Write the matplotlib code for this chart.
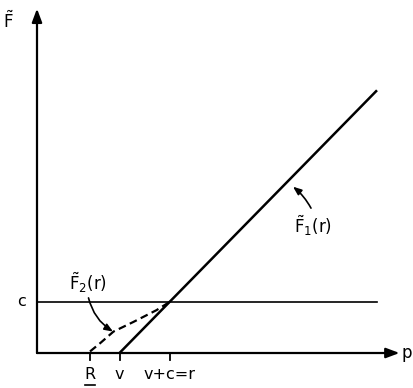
import matplotlib.pyplot as plt

# key positions on the p axis (data units)
R = 1.05
v = 1.65
c = 1.0
r = v + c
x_end = 6.8

# F2(r): dashed curve
f2_x = [1.06, 1.26, 1.53, 1.93, 2.39, 2.65]
f2_y = [0.03, 0.19, 0.42, 0.61, 0.84, 1.0]

tick_pos = [R, v, r]
tick_labels = ["R", "v", "v+c=r"]

plt.rcParams['mathtext.fontset'] = 'dejavusans'

fig = plt.figure(figsize=(4.14, 3.88), dpi=100)
ax = fig.add_axes([0, 0, 1, 1])
ax.set_xlim(-0.74, 7.54)
ax.set_ylim(-0.686, 6.92)
ax.axis('off')

# axes with arrow heads
ax.annotate('', xy=(7.25, 0), xytext=(0, 0),
            arrowprops=dict(arrowstyle='-|>,head_length=0.8,head_width=0.3', color='black', lw=1.6,
                            shrinkA=0, shrinkB=0))
ax.annotate('', xy=(0, 6.75), xytext=(0, 0),
            arrowprops=dict(arrowstyle='-|>,head_length=0.8,head_width=0.3', color='black', lw=1.6,
                            shrinkA=0, shrinkB=0))

# horizontal line at c
ax.plot([0, x_end], [c, c], color='black', lw=1.2)

# F1(r) = r - v
ax.plot([v, x_end], [0, x_end - v], color='black', lw=1.8, solid_capstyle='butt')

# F2(r) dashed
ax.plot(f2_x, f2_y, color='black', lw=1.6, ls=(0, (3.5, 2)))

# ticks and tick labels
for xp, lab in zip(tick_pos, tick_labels):
    ax.plot([xp, xp], [0, -0.13], color='black', lw=1.3)
    ax.text(xp, -0.43, lab, ha='center', va='center', fontsize=11.5)
ax.plot([R - 0.1, R + 0.1], [-0.63, -0.63], color='black', lw=1.2)

ax.text(-0.3, c, "c", ha='center', va='center', fontsize=11.5)
ax.text(7.4, 0, "p", ha='center', va='center', fontsize=12)
ax.text(-0.58, 6.5, r'$\tilde{\mathrm{F}}$', ha='center', va='center', fontsize=12)

# labels for the two curves with curved arrows
ax.text(1.02, 1.38, r'$\tilde{\mathrm{F}}_2\mathrm{(r)}$', ha='center', va='center', fontsize=12)
ax.annotate('', xy=(1.52, 0.42), xytext=(1.03, 1.08),
            arrowprops=dict(arrowstyle='-|>,head_length=0.5,head_width=0.2', color='black', lw=1.2,
                            connectionstyle='arc3,rad=0.2', shrinkA=0, shrinkB=0))

ax.text(5.52, 2.5, r'$\tilde{\mathrm{F}}_1\mathrm{(r)}$', ha='center', va='center', fontsize=12)
ax.annotate('', xy=(5.12, 3.26), xytext=(5.48, 2.84),
            arrowprops=dict(arrowstyle='-|>,head_length=0.5,head_width=0.2', color='black', lw=1.2,
                            connectionstyle='arc3,rad=0.1', shrinkA=0, shrinkB=0))

fig.savefig('out.png', dpi=100)
